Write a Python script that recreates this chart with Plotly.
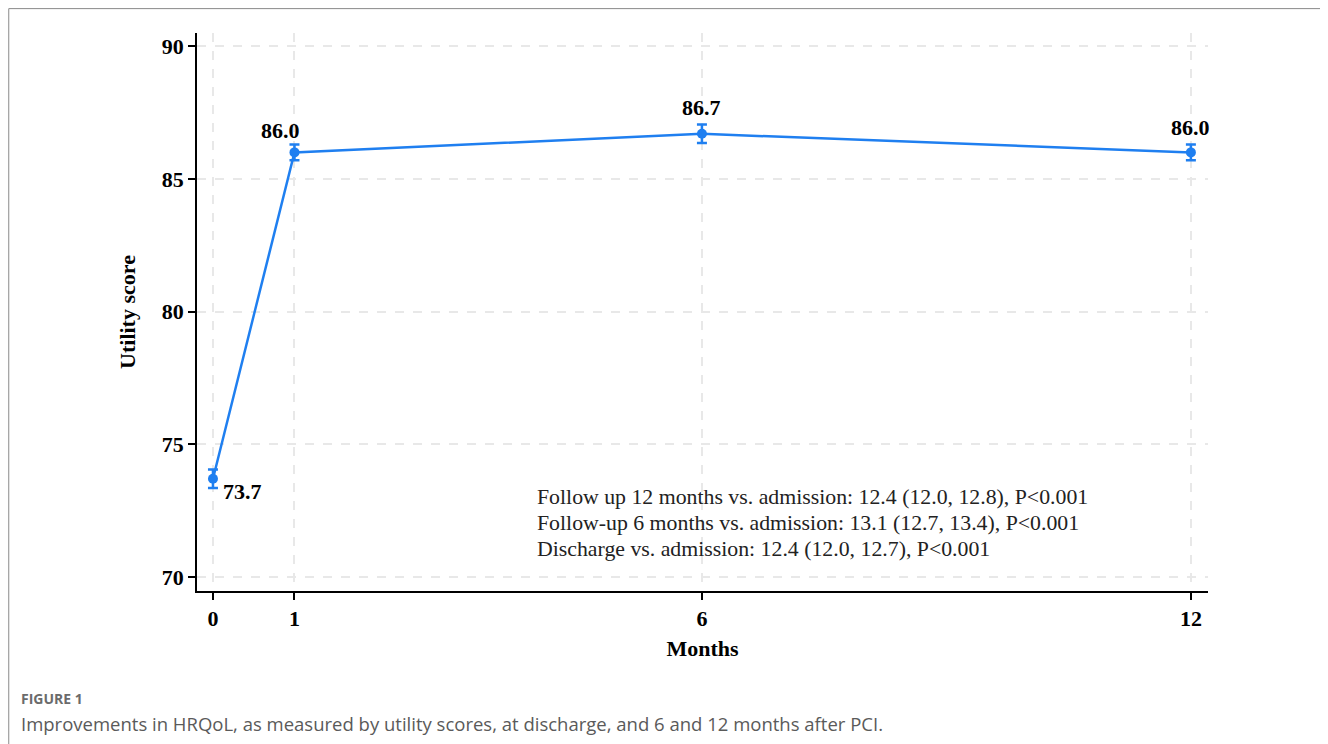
import plotly.graph_objects as go

months = [0, 1, 6, 12]
utility = [73.7, 86.0, 86.7, 86.0]
ci_err = [0.35, 0.3, 0.35, 0.3]
labels = ["73.7", "86.0", "86.7", "86.0"]
x_ticks = [0, 1, 6, 12]
y_ticks = [70, 75, 80, 85, 90]
notes = [
    "Follow up 12 months vs. admission: 12.4 (12.0, 12.8), P<0.001",
    "Follow-up 6 months vs. admission: 13.1 (12.7, 13.4), P<0.001",
    "Discharge vs. admission: 12.4 (12.0, 12.7), P<0.001",
]
note_y = [73.01, 72.05, 71.05]
caption_head = "FIGURE 1"
caption = "Improvements in HRQoL, as measured by utility scores, at discharge, and 6 and 12 months after PCI."

blue = "#1f7ff0"
serif = "Liberation Serif"

fig = go.Figure()
fig.add_trace(go.Scatter(
    x=months, y=utility, mode="lines+markers",
    line=dict(color=blue, width=2.5),
    marker=dict(color=blue, size=10),
    error_y=dict(type="data", array=ci_err, color=blue, thickness=2.5, width=5),
    showlegend=False, hoverinfo="x+y",
))

# data labels (pixel offsets from the point: right, down)
offsets = [(30, 13), (-14, -22), (0, -26), (0, -25)]
for xv, yv, lab, (ax, ay) in zip(months, utility, labels, offsets):
    fig.add_annotation(x=xv, y=yv, text="<b>" + lab + "</b>", showarrow=False,
                       xshift=ax, yshift=-ay, font=dict(family=serif, size=22, color="black"))

for t, yv in zip(notes, note_y):
    fig.add_annotation(x=3.95, y=yv, text=t, showarrow=False, xanchor="left",
                       font=dict(family=serif, size=21.8, color="#222"))

fig.add_annotation(xref="paper", yref="paper", x=-0.176, y=-0.1918, text="<b>" + caption_head + "</b>",
                   showarrow=False, xanchor="left", yanchor="middle",
                   font=dict(family="Open Sans", size=14, color="#6b6b6b"))
fig.add_annotation(xref="paper", yref="paper", x=-0.176, y=-0.2366, text=caption,
                   showarrow=False, xanchor="left", yanchor="middle",
                   font=dict(family="Open Sans", size=18.5, color="#5a5a5a"))

fig.add_shape(type="rect", xref="paper", yref="paper", x0=-0.1862, x1=1.1137, y0=-0.35, y1=1.0437,
              line=dict(color="#8a8a8a", width=1), layer="below")

axis_common = dict(ticks="outside", ticklen=7, tickwidth=1.5, tickcolor="black",
                   showline=True, linecolor="black", linewidth=1.5,
                   showgrid=True, gridcolor="#e8e8e8", gridwidth=2, griddash="dash", zeroline=False,
                   tickfont=dict(family=serif, size=22, color="black", weight="bold"))

fig.update_xaxes(range=[-0.196, 12.21], tickvals=x_ticks, **axis_common,
                 title=dict(text="<b>Months</b>", font=dict(family=serif, size=22, color="black"), standoff=10))
fig.update_yaxes(range=[69.47, 90.5], tickvals=y_ticks, **axis_common,
                 title=dict(text="<b>Utility score</b>", font=dict(family=serif, size=22, color="black"), standoff=20))

fig.update_layout(width=1328, height=744, margin=dict(l=189, r=128, t=25, b=161),
                  plot_bgcolor="white", paper_bgcolor="white")

fig.write_html("out.html")
